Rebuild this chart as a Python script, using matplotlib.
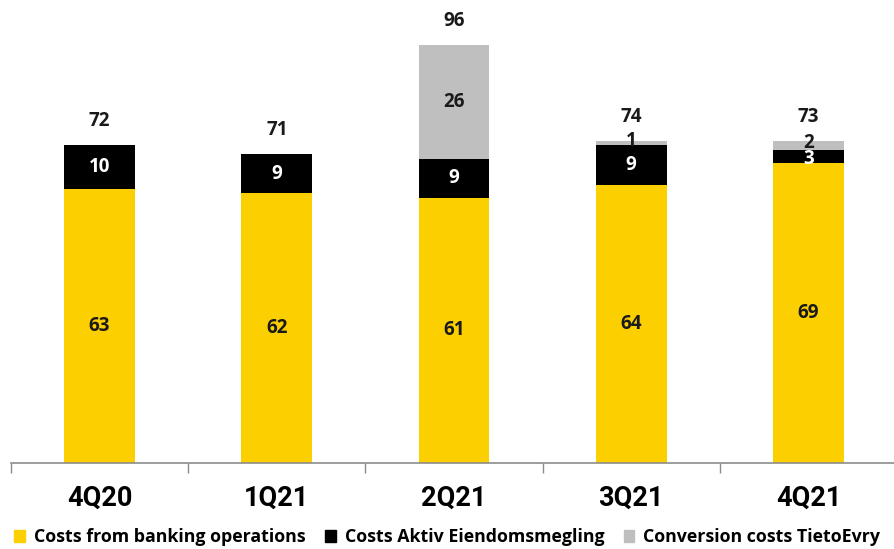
import numpy as np
import matplotlib.pyplot as plt
from matplotlib.patches import Patch

quarters = ['4Q20', '1Q21', '2Q21', '3Q21', '4Q21']
banking = [63, 62, 61, 64, 69]
aktiv = [10, 9, 9, 9, 3]
tieto = [0, 0, 26, 1, 2]
totals = [72, 71, 96, 74, 73]

yellow = '#FCCF00'
black = '#000000'
grey = '#BFBFBF'

fig = plt.figure(figsize=(8.94, 5.49), dpi=100)
ax = fig.add_axes([11/894, 86/549, 886/894, 463/549])

x = np.arange(len(quarters))
w = 0.4
banking = np.array(banking)
aktiv = np.array(aktiv)
tieto = np.array(tieto)

ax.bar(x, banking, w, color=yellow)
ax.bar(x, aktiv, w, bottom=banking, color=black)
ax.bar(x, tieto, w, bottom=banking + aktiv, color=grey)

lab_font = dict(family=['Open Sans', 'DejaVu Sans'], fontweight='bold', fontsize=13.5,
                ha='center', va='center')
for i in range(len(quarters)):
    ax.text(x[i], banking[i] / 2, str(banking[i]), color='#1a1a1a', **lab_font)
    if aktiv[i] >= 5:
        ax.text(x[i], banking[i] + aktiv[i] / 2, str(aktiv[i]), color='white', **lab_font)
    else:
        ax.text(x[i], banking[i] + aktiv[i] / 2 - 0.6, str(aktiv[i]), color='white', **lab_font)
    if tieto[i] > 0:
        top = banking[i] + aktiv[i]
        if tieto[i] >= 5:
            ax.text(x[i], top + tieto[i] / 2, str(tieto[i]), color='#1a1a1a', **lab_font)
        else:
            ax.text(x[i], top + tieto[i] / 2 + 0.6, str(tieto[i]), color='#1a1a1a', **lab_font)
    stack = banking[i] + aktiv[i] + tieto[i]
    ax.text(x[i], stack + 5.6, str(totals[i]), color='#1a1a1a', **lab_font)

ax.set_xlim(-0.5, 4.5)
ax.set_ylim(0, 463 / 4.35)
for s in ['top', 'right', 'left']:
    ax.spines[s].set_visible(False)
ax.spines['bottom'].set_color('#8c8c8c')
ax.spines['bottom'].set_linewidth(1.2)
ax.set_yticks([])

ax.set_xticks(np.arange(-0.5, 5, 1))
ax.set_xticklabels([])
ax.tick_params(axis='x', which='major', length=7, color='#8c8c8c', width=1)
ax.set_xticks(x, minor=True)
ax.set_xticklabels(quarters, minor=True, fontsize=19.5, fontweight='bold',
                   family=['Roboto', 'DejaVu Sans'])
ax.tick_params(axis='x', which='minor', length=0, pad=16)

handles = [Patch(color=yellow), Patch(color=black), Patch(color=grey)]
names = ['Costs from banking operations', 'Costs Aktiv Eiendomsmegling', 'Conversion costs TietoEvry']
fig.legend(handles, names, loc='lower left', bbox_to_anchor=(-0.002, -0.024), ncol=3,
           frameon=False, handlelength=0.6, handleheight=0.6, handletextpad=0.5,
           columnspacing=1.1, prop=dict(family=['Open Sans', 'DejaVu Sans'], weight='bold', size=12.8))

fig.savefig('out.png', dpi=100)
